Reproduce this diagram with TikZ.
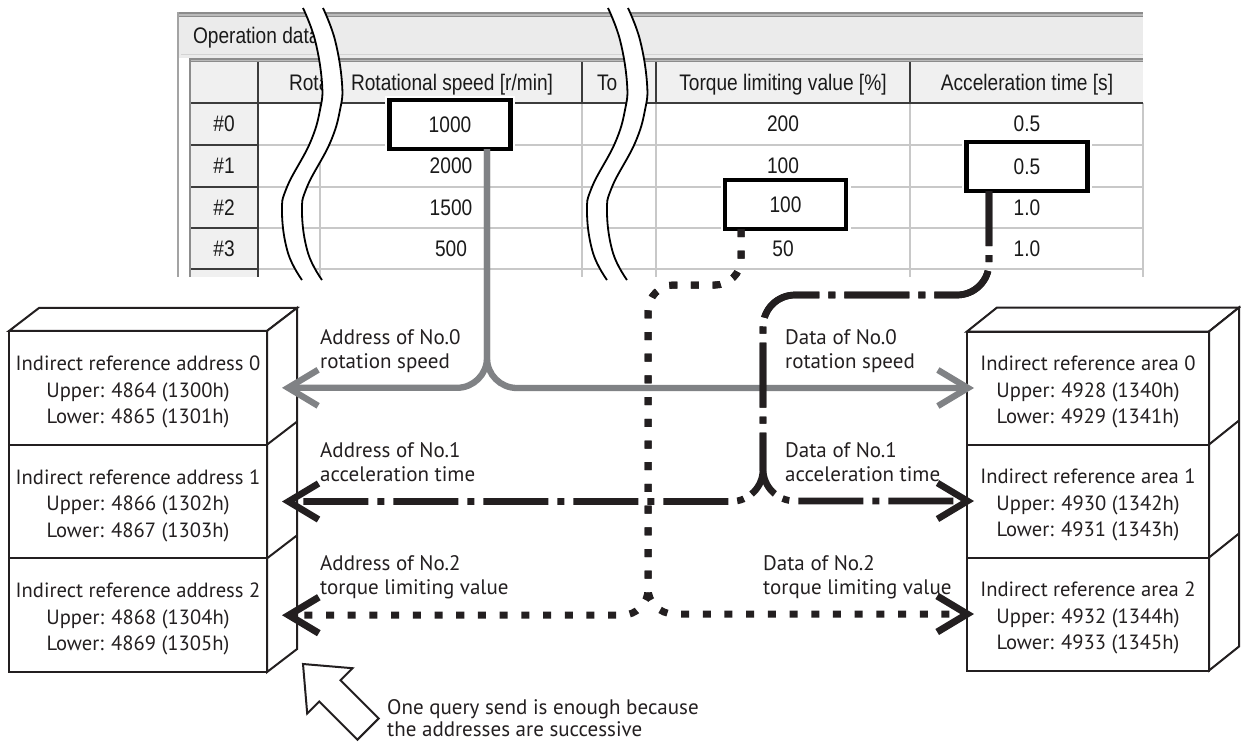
\documentclass[tikz,border=0pt]{standalone}
\usepackage{fontspec}
\usepackage{graphicx}
\usetikzlibrary{arrows.meta}
\setmainfont{PT Sans}
\newfontfamily\uifont{Liberation Sans}
\definecolor{lk}{HTML}{808285}
\definecolor{uitext}{HTML}{1A1A1A}
\definecolor{uigrid}{HTML}{C8C8C8}
\definecolor{uidark}{HTML}{3C3C3C}
\definecolor{uihead}{HTML}{F0F0F0}
\definecolor{uitab}{HTML}{EBEBEB}
\definecolor{uiframe}{HTML}{8C8C8C}
\definecolor{ink}{HTML}{231F20}
\newcommand\uitxt[1]{{\uifont\fontsize{22.5}{27}\selectfont\scalebox{0.85}[1]{#1}}}
\newcommand\topstrut{\rule{0pt}{23pt}}
\begin{document}
\begin{tikzpicture}[x=1pt,y=-1pt,
  cell/.style={inner sep=0pt, outer sep=0pt, text=uitext, anchor=base},
  hl/.style={draw=black, line width=4.5pt, fill=white, inner sep=0pt, outer sep=0pt,
    minimum width=121pt, minimum height=49pt, text=uitext,
    preaction={draw=white, line width=9pt}},
  stk/.style={draw=ink, line width=2pt, fill=white, inner sep=0pt, outer sep=0pt,
    minimum width=258pt, minimum height=113.7pt, align=center, text=ink,
    font=\fontsize{20.6}{26.5}\selectfont},
  rstk/.style={stk, minimum width=242pt, minimum height=113pt},
  face/.style={draw=ink, line width=2pt, fill=white, line join=miter},
  lbl/.style={anchor=base west, align=left, inner sep=0pt, text=ink,
    font=\fontsize{21}{23.5}\selectfont},
  tipv/.tip={Straight Barb[length=30pt,width=36pt]},
  glink/.style={draw=lk, line width=6.3pt, rounded corners=30pt, -tipv},
  dlink/.style={draw=ink, line width=7pt, dash pattern=on 8pt off 13.7pt, rounded corners=26pt, -tipv},
  ddlink/.style={draw=ink, line width=6.7pt, dash pattern=on 65pt off 9pt on 7pt off 9pt, dash phase=10pt, rounded corners=32pt, -tipv},
  wave/.style={draw=black, line width=1.8pt}
]
\useasboundingbox (0,0) rectangle (1241,742);
\fill[white] (0,0) rectangle (1241,742);

% ---------- screenshot of the operation data table ----------
\fill[uitab] (179,17) rectangle (1143,58);
\fill[uiframe] (177,12) rectangle (1143,17);
\fill[uiframe!60] (177,14) rectangle (1143,15.5);
\draw[uigrid!80, line width=1pt] (181,54) -- (1143,54);
\draw[uiframe!80, line width=2pt] (178,12) -- (178,277);
\fill[uihead] (190,62) rectangle (1143,103);
\fill[uihead] (190,103) rectangle (258,277);
\fill[uiframe] (189,58) rectangle (1143,62);
\fill[uiframe!60] (189,59.5) rectangle (1143,60.5);
\draw[uiframe, line width=2pt] (190,58) -- (190,277);
\foreach \y in {145,187,228,269} \draw[uigrid, line width=1.5pt] (258,\y) -- (1143,\y);
\foreach \x in {320,582,656,910,1143} \draw[uigrid, line width=1.5pt] (\x,103) -- (\x,277);
\draw[uidark, line width=1.5pt] (191,103) -- (1143,103);
\foreach \y in {145,187,228,269} \draw[uidark, line width=1.5pt] (191,\y) -- (258,\y);
\draw[uidark, line width=1.5pt] (258,62) -- (258,277);
\foreach \x in {582,656,910} \draw[uidark, line width=1.5pt] (\x,62) -- (\x,103);

\node[cell, anchor=base west] (tab) at (193,43) {\uitxt{Operation data}};
\node[cell, anchor=base west] (h1) at (289,90) {\uitxt{Rota}};
\node[cell] (h2) at (452,90) {\uitxt{Rotational speed [r/min]}};
\node[cell, anchor=base west] (h3) at (597,90) {\uitxt{To}};
\node[cell] (h4) at (783,90) {\uitxt{Torque limiting value [\%]}};
\node[cell] (h5) at (1027,90) {\uitxt{Acceleration time [s]}};

\node[cell] (r0) at (224,131.5) {\uitxt{\#0}};
\node[cell] (r1) at (224,173.5) {\uitxt{\#1}};
\node[cell] (r2) at (224,215) {\uitxt{\#2}};
\node[cell] (r3) at (224,256) {\uitxt{\#3}};

\node[cell] (s1) at (451,173.5) {\uitxt{2000}};
\node[cell] (s2) at (451,215) {\uitxt{1500}};
\node[cell] (s3) at (451,256) {\uitxt{500}};
\node[cell] (t0) at (783,131.5) {\uitxt{200}};
\node[cell] (t1) at (783,173.5) {\uitxt{100}};
\node[cell] (t3) at (783,256) {\uitxt{50}};
\node[cell] (a0c) at (1027,131.5) {\uitxt{0.5}};
\node[cell] (a2c) at (1027,215) {\uitxt{1.0}};
\node[cell] (a3c) at (1027,256) {\uitxt{1.0}};

% ---------- break marks ----------
\foreach \dx in {0,305} {
  \begin{scope}[xshift=\dx]
    \fill[white] plot[smooth, tension=0.7] coordinates {(303,8) (315,40) (322,83) (320,110) (310,143) (287,187) (282,213) (288,253) (302,280)}
      -- plot[smooth, tension=0.7] coordinates {(322,280) (308,253) (302,213) (307,187) (330,143) (340,110) (342,83) (335,40) (323,8)} -- cycle;
    \draw[wave] plot[smooth, tension=0.7] coordinates {(303,8) (315,40) (322,83) (320,110) (310,143) (287,187) (282,213) (288,253) (302,280)};
    \draw[wave] plot[smooth, tension=0.7] coordinates {(323,8) (335,40) (342,83) (340,110) (330,143) (307,187) (302,213) (308,253) (322,280)};
  \end{scope}
}

% ---------- highlighted cells ----------
\node[hl] (B0) at (450,124.5) {\uitxt{1000}};
\node[hl] (B1) at (1027,166.5) {\uitxt{0.5}};
\node[hl] (B2) at (785.5,204.5) {\uitxt{100}};

% ---------- left stack ----------
\node[stk] (L0) at (138,387.8) {\topstrut Indirect reference address 0\\Upper: 4864 (1300h)\\Lower: 4865 (1301h)};
\node[stk] (L1) at (138,501.5) {\topstrut Indirect reference address 1\\Upper: 4866 (1302h)\\Lower: 4867 (1303h)};
\node[stk] (L2) at (138,615.2) {\topstrut Indirect reference address 2\\Upper: 4868 (1304h)\\Lower: 4869 (1305h)};
\draw[face] (L0.north west) -- ++(30,-23) -- ++(258,0) -- (L0.north east) -- cycle;
\draw[face] (L0.north east) -- ++(30,-23) -- ([shift={(30,-23)}]L2.south east) -- (L2.south east) -- cycle;
\draw[face] (L1.north east) -- ++(30,-23);
\draw[face] (L2.north east) -- ++(30,-23);

% ---------- right stack ----------
\node[rstk] (R0) at (1088,388) {\topstrut Indirect reference area 0\\Upper: 4928 (1340h)\\Lower: 4929 (1341h)};
\node[rstk] (R1) at (1088,501) {\topstrut Indirect reference area 1\\Upper: 4930 (1342h)\\Lower: 4931 (1343h)};
\node[rstk] (R2) at (1088,614) {\topstrut Indirect reference area 2\\Upper: 4932 (1344h)\\Lower: 4933 (1345h)};
\draw[face] (R0.north west) -- ++(30,-24) -- ++(242,0) -- (R0.north east) -- cycle;
\draw[face] (R0.north east) -- ++(30,-24) -- ([shift={(30,-24)}]R2.south east) -- (R2.south east) -- cycle;
\draw[face] (R1.north east) -- ++(30,-24);
\draw[face] (R2.north east) -- ++(30,-24);

% ---------- labels (anchor = baseline of the last line) ----------
\node[lbl] (la0t) at (320,368) {Address of No.0\\rotation speed};
\node[lbl] (la1t) at (320,481) {Address of No.1\\acceleration time};
\node[lbl] (la2t) at (320,594) {Address of No.2\\torque limiting value};
\node[lbl] (ld0t) at (785,368) {Data of No.0\\rotation speed};
\node[lbl] (ld1t) at (785,481) {Data of No.1\\acceleration time};
\node[lbl] (ld2t) at (763,594) {Data of No.2\\torque limiting value};

% ---------- connectors ----------
\coordinate (la0) at ([xshift=15pt]L0.east);
\coordinate (la1) at ([xshift=15pt]L1.east);
\coordinate (la2) at ([xshift=15pt]L2.east);
\coordinate (ra0) at ([xshift=7pt]R0.west);
\coordinate (ra1) at ([xshift=7pt]R1.west);
\coordinate (ra2) at ([xshift=7pt]R2.west);
\coordinate (k2) at (648,285);
\coordinate (k1) at (763,295);

\draw[glink] ([xshift=37pt]B0.south) |- (la0);
\draw[glink] ([xshift=37pt]B0.south) |- (ra0);
\draw[dlink] ([xshift=-44.5pt]B2.south) |- (k2) |- (la2);
\draw[dlink] ([xshift=-44.5pt]B2.south) |- (k2) |- (ra2);
\draw[ddlink] ([xshift=-38pt]B1.south) |- (k1) |- (la1);
\draw[ddlink] ([xshift=-38pt]B1.south) |- (k1) |- (ra1);

% ---------- hollow arrow and note ----------
\draw[draw=ink, line width=2pt, fill=white, line join=miter]
  (303,664) -- (352.5,668.2) -- (340.5,680.3) -- (378.7,718.4) -- (357.4,739.7)
  -- (319.3,701.5) -- (307.2,713.5) -- cycle;
\node[lbl, font=\fontsize{21}{21.5}\selectfont] (note) at (387,736) {One query send is enough because\\the addresses are successive};
\end{tikzpicture}
\end{document}
